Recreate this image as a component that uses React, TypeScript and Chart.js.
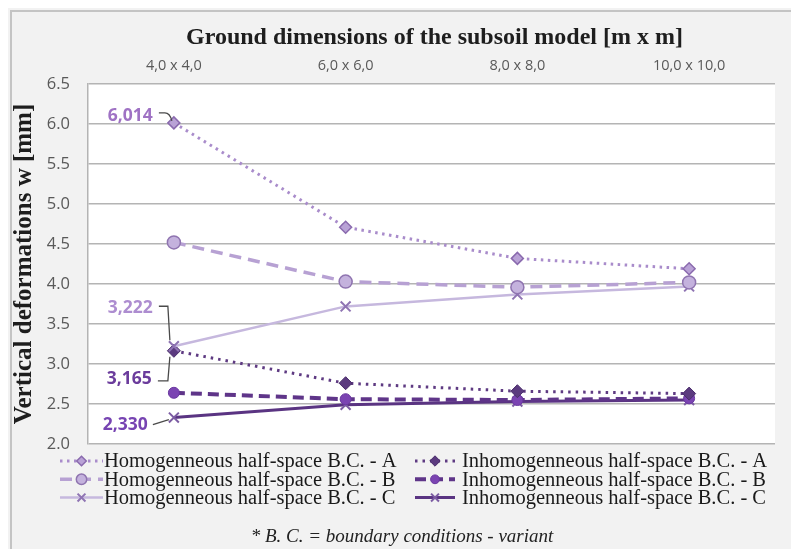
import React, { useEffect, useRef } from "react";
import { Chart, registerables } from "chart.js";
import { drawPoint } from "chart.js/helpers";

Chart.register(...registerables);

const categories = ["4,0 x 4,0", "6,0 x 6,0", "8,0 x 8,0", "10,0 x 10,0"];
const homogA = [6.014, 4.71, 4.32, 4.19];
const homogB = [4.52, 4.03, 3.96, 4.02];
const homogC = [3.222, 3.72, 3.87, 3.97];
const inhomA = [3.165, 2.76, 2.66, 2.63];
const inhomB = [2.64, 2.56, 2.55, 2.57];
const inhomC = [2.33, 2.49, 2.53, 2.55];
const seriesLabels = [
  "Homogenneous half-space B.C. - A",
  "Homogenneous half-space B.C. - B",
  "Homogenneous half-space B.C. - C",
  "Inhomogenneous half-space B.C. - A",
  "Inhomogenneous half-space B.C. - B",
  "Inhomogenneous half-space B.C. - C",
];
const yMin = 2.0;
const yMax = 6.5;
const yStep = 0.5;
const chartTitle = "Ground dimensions of the subsoil model [m x m]";
const yTitle = "Vertical deformations w [mm]";
const footnote = "* B. C. = boundary conditions - variant";
// which points carry a value label: [series, category index]
const labelledPoints = [
  [0, 0],
  [2, 0],
  [3, 0],
  [5, 0],
];

const W = 791;
const H = 541;

const labelStyle: Record<number, { color: string; dx: number; dy: number; kind: string }> = {
  0: { color: "#9f72c4", dx: -21, dy: -7, kind: "hookDown" },
  2: { color: "#ad8dd0", dx: -21, dy: -38, kind: "down" },
  3: { color: "#6b3c9c", dx: -22, dy: 28, kind: "up" },
  5: { color: "#7744b2", dx: -26, dy: 7, kind: "straight" },
};

const bgPlugin = {
  id: "bg",
  beforeDraw(chart: any) {
    const ctx = chart.ctx;
    const a = chart.chartArea;
    ctx.save();
    ctx.fillStyle = "#f2f2f2";
    ctx.fillRect(0, 0, W, H);
    ctx.strokeStyle = "#c4c4c4";
    ctx.lineWidth = 2;
    ctx.beginPath();
    ctx.moveTo(3, H);
    ctx.lineTo(3, 3);
    ctx.lineTo(W, 3);
    ctx.stroke();
    ctx.fillStyle = "#ffffff";
    ctx.fillRect(a.left, a.top, a.right - a.left, a.bottom - a.top);
    // title
    ctx.fillStyle = "#1e1e1e";
    ctx.font = "bold 24px 'Liberation Serif'";
    ctx.textAlign = "center";
    ctx.textBaseline = "middle";
    ctx.fillText(chartTitle, (a.left + a.right) / 2 + 3, 30);
    ctx.restore();
  },
};

const labelPlugin = {
  id: "valueLabels",
  afterDatasetsDraw(chart: any) {
    const ctx = chart.ctx;
    ctx.save();
    for (const [s, i] of labelledPoints) {
      const el = chart.getDatasetMeta(s).data[i];
      const v = chart.data.datasets[s].data[i] as number;
      const st = labelStyle[s];
      const px = el.x;
      const py = el.y;
      const tx = px + st.dx;
      const ty = py + st.dy;
      ctx.font = "bold 17.5px 'Open Sans'";
      ctx.fillStyle = st.color;
      ctx.textAlign = "right";
      ctx.textBaseline = "middle";
      ctx.fillText(v.toFixed(3).replace(".", ","), tx, ty);
      ctx.strokeStyle = "#4a4a4a";
      ctx.lineWidth = 1.3;
      ctx.setLineDash([]);
      ctx.beginPath();
      if (st.kind === "hookDown") {
        ctx.moveTo(tx + 6, ty - 3);
        ctx.lineTo(px - 9, ty - 3);
        ctx.quadraticCurveTo(px - 4, ty - 3, px - 2, py - 2);
      } else if (st.kind === "down") {
        ctx.moveTo(tx + 6, ty - 2);
        ctx.lineTo(px - 6, ty - 2);
        ctx.lineTo(px - 4, py - 6);
      } else if (st.kind === "up") {
        ctx.moveTo(tx + 6, ty + 2);
        ctx.lineTo(px - 6, ty + 2);
        ctx.lineTo(px - 4, py + 6);
      } else {
        ctx.moveTo(tx + 5, ty);
        ctx.lineTo(px - 5, py + 2);
      }
      ctx.stroke();
    }
    ctx.restore();
  },
};

const legendPlugin = {
  id: "customLegend",
  afterDraw(chart: any) {
    const ctx = chart.ctx;
    ctx.save();
    const cols = [
      { x0: 52, x1: 95, tx: 96 },
      { x0: 407, x1: 447, tx: 454 },
    ];
    chart.data.datasets.forEach((ds: any, k: number) => {
      const col = cols[k < 3 ? 0 : 1];
      const y = 453 + (k % 3) * 18.3;
      ctx.strokeStyle = ds.borderColor;
      ctx.lineWidth = ds.borderWidth;
      ctx.setLineDash(ds.borderDash || []);
      ctx.beginPath();
      ctx.moveTo(col.x0, y);
      ctx.lineTo(col.x1, y);
      ctx.stroke();
      ctx.setLineDash([]);
      ctx.fillStyle = ds.pointBackgroundColor;
      ctx.strokeStyle = ds.pointBorderColor;
      ctx.lineWidth = ds.pointBorderWidth;
      drawPoint(
        ctx,
        { pointStyle: ds.pointStyle, radius: ds.pointRadius * 0.8, rotation: 0, borderWidth: ds.pointBorderWidth },
        (col.x0 + col.x1) / 2,
        y
      );
      ctx.fillStyle = "#1a1a1a";
      ctx.font = "20.5px 'Liberation Serif'";
      ctx.textAlign = "left";
      ctx.textBaseline = "middle";
      ctx.fillText(ds.label, col.tx, y + 1);
    });
    ctx.font = "italic 19px 'Liberation Serif'";
    ctx.fillStyle = "#222222";
    ctx.textAlign = "center";
    ctx.fillText(footnote, 394, 529);
    ctx.restore();
  },
};

export default function App() {
  const ref = useRef<HTMLCanvasElement>(null);
  useEffect(() => {
    if (!ref.current) return;
    const mk = (
      label: string,
      data: number[],
      line: string,
      width: number,
      dash: number[],
      pStyle: string,
      pr: number,
      pFill: string,
      pBorder: string,
      pbw: number
    ) => ({
      label,
      data,
      borderColor: line,
      borderWidth: width,
      borderDash: dash,
      pointStyle: pStyle,
      pointRadius: pr,
      pointBackgroundColor: pFill,
      pointBorderColor: pBorder,
      pointBorderWidth: pbw,
      tension: 0,
      fill: false,
    });
    const chart = new Chart(ref.current, {
      type: "line",
      data: {
        labels: categories,
        datasets: [
          mk(seriesLabels[0], homogA, "#a98ccb", 3, [2.5, 4.5], "rectRot", 6, "#b9a2d6", "#8a6aae", 1.5),
          mk(seriesLabels[1], homogB, "#b7a1d3", 3.5, [12, 7], "circle", 6.5, "#c4b2dd", "#8f74b0", 1.5),
          mk(seriesLabels[2], homogC, "#c6b8de", 2.5, [], "crossRot", 7, "#9a80bd", "#8f74b3", 2),
          mk(seriesLabels[3], inhomA, "#5e3a82", 3, [2.5, 5], "rectRot", 6.5, "#5b3a7f", "#4a2d6b", 1),
          mk(seriesLabels[4], inhomB, "#5f3589", 4, [11, 6], "circle", 5.5, "#7b44b2", "#6a38a0", 1),
          mk(seriesLabels[5], inhomC, "#5a3482", 3, [], "crossRot", 7, "#7c5ca3", "#7c5ca3", 2),
        ],
      },
      options: {
        responsive: false,
        animation: false,
        devicePixelRatio: 1,
        layout: { padding: { left: 0, top: 50, right: 24, bottom: 105 } },
        plugins: {
          legend: { display: false },
          title: { display: false },
          tooltip: { enabled: false },
        },
        scales: {
          x: {
            type: "category",
            position: "top",
            offset: true,
            grid: { display: false, drawTicks: false },
            border: { display: false },
            ticks: {
              padding: 9,
              color: "#595959",
              font: { family: "'Open Sans'", size: 14.5 },
              maxRotation: 0,
            },
            afterFit: (s: any) => {
              s.height = 26;
            },
          },
          y: {
            min: yMin,
            max: yMax,
            ticks: {
              stepSize: yStep,
              padding: 18,
              color: "#595959",
              font: { family: "'Open Sans'", size: 16.5 },
              callback: (v: any) => Number(v).toFixed(1),
            },
            grid: { color: "#b4b4b4", lineWidth: 1.5, drawTicks: false },
            border: { display: true, color: "#b4b4b4", width: 1.5 },
            title: {
              display: true,
              text: yTitle,
              color: "#1e1e1e",
              font: { family: "'Liberation Serif'", size: 25, weight: "bold" },
              padding: { top: 2, bottom: 0 },
            },
            afterFit: (s: any) => {
              s.width = 80;
            },
          },
        },
      },
      plugins: [bgPlugin, labelPlugin, legendPlugin],
    } as any);
    return () => chart.destroy();
  }, []);
  return (
    <div style={{ width: W, height: H }}>
      <canvas ref={ref} width={W} height={H} style={{ display: "block" }} />
    </div>
  );
}
